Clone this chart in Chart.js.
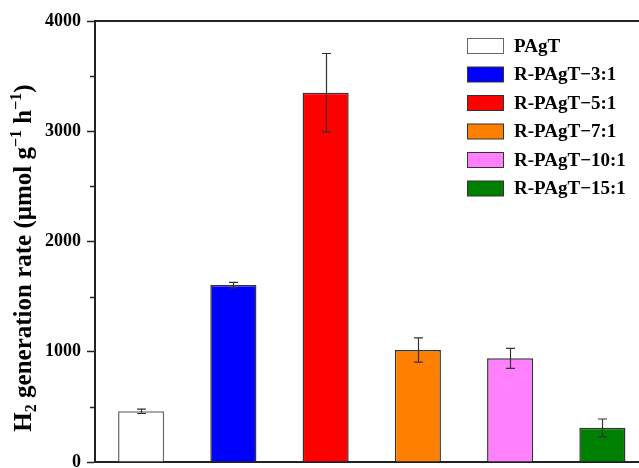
<!DOCTYPE html>
<html>
<head>
<meta charset="utf-8">
<script src="https://cdn.jsdelivr.net/npm/chart.js@4"></script>
<style>
    html, body { margin: 0; padding: 0; background: #fff; overflow: hidden; }
    #c { display: block; }
</style>
</head>
<body>
<canvas id="c" width="639" height="468"></canvas>
<script>
// data
const categories = ['PAgT', 'R-PAgT\u22123:1', 'R-PAgT\u22125:1', 'R-PAgT\u22127:1', 'R-PAgT\u221210:1', 'R-PAgT\u221215:1'];
const rates = [460, 1605, 3350, 1015, 940, 310];
const errors = [20, 25, 355, 110, 90, 80];
const yTicks = [0, 1000, 2000, 3000, 4000];
const colors = ['#ffffff', '#0000ff', '#ff0000', '#ff8000', '#ff80ff', '#008000'];
const borders = ['#666666', '#333333', '#333333', '#333333', '#333333', '#333333'];

const serif = '"Liberation Serif", "Times New Roman", serif';

let points = [];
for (let i = 0; i < rates.length; i++)
    points.push({x: i, y: rates[i]});

// error bars
const errorBars = {
    id: 'errorBars',
    afterDatasetsDraw(chart) {
        let ctx = chart.ctx;
        let xs = chart.scales.x, ys = chart.scales.y;
        ctx.save();
        ctx.strokeStyle = '#333';
        ctx.lineWidth = 1.2;
        for (let i = 0; i < rates.length; i++) {
            let x = Math.round(xs.getPixelForValue(i)) + 0.5;
            let top = ys.getPixelForValue(rates[i] + errors[i]);
            let bot = ys.getPixelForValue(rates[i] - errors[i]);
            ctx.beginPath();
            ctx.moveTo(x, top); ctx.lineTo(x, bot);
            ctx.moveTo(x - 4.5, top); ctx.lineTo(x + 4.5, top);
            ctx.moveTo(x - 4.5, bot); ctx.lineTo(x + 4.5, bot);
            ctx.stroke();
        }
        ctx.restore();
    }
};

// frame, minor ticks, axis title, legend
const decorations = {
    id: 'decorations',
    afterDraw(chart) {
        let ctx = chart.ctx;
        let area = chart.chartArea;
        let ys = chart.scales.y;
        ctx.save();

        // top line
        ctx.strokeStyle = '#222';
        ctx.lineWidth = 2;
        ctx.beginPath();
        ctx.moveTo(area.left - 1, area.top);
        ctx.lineTo(area.right, area.top);
        ctx.stroke();

        // minor ticks
        ctx.lineWidth = 1.5;
        for (let v = 500; v < 4000; v += 1000) {
            let y = Math.round(ys.getPixelForValue(v)) + 0.5;
            ctx.beginPath();
            ctx.moveTo(area.left - 5, y);
            ctx.lineTo(area.left, y);
            ctx.stroke();
        }

        // y title with sub/superscripts
        ctx.translate(31, 258);
        ctx.rotate(-Math.PI / 2);
        let big = 'bold 25px ' + serif;
        let small = 'bold 16px ' + serif;
        let parts = [
            ['H', big, 0],
            ['2', small, 5],
            [' generation rate (\u03bcmol g', big, 0],
            ['\u22121', small, -10],
            [' h', big, 0],
            ['\u22121', small, -10],
            [')', big, 0]
        ];
        let total = 0;
        for (let p of parts) {
            ctx.font = p[1];
            total += ctx.measureText(p[0]).width;
        }
        let x = -total / 2;
        ctx.fillStyle = '#000';
        ctx.textBaseline = 'alphabetic';
        for (let p of parts) {
            ctx.font = p[1];
            ctx.fillText(p[0], x, p[2]);
            x += ctx.measureText(p[0]).width;
        }
        ctx.setTransform(1, 0, 0, 1, 0, 0);

        // legend
        ctx.font = 'bold 19px ' + serif;
        ctx.textBaseline = 'middle';
        ctx.lineWidth = 1;
        for (let i = 0; i < categories.length; i++) {
            let cy = 46 + i * 28.5;
            ctx.fillStyle = colors[i];
            ctx.fillRect(467.5, cy - 7.5, 36, 15);
            ctx.strokeStyle = borders[i];
            ctx.strokeRect(467.5, cy - 7.5, 36, 15);
            ctx.fillStyle = '#000';
            ctx.fillText(categories[i], 514, cy + 1);
        }
        ctx.restore();
    }
};

new Chart(document.getElementById('c').getContext('2d'), {
    type: 'bar',
    data: {
        datasets: [{
            data: points,
            backgroundColor: colors,
            borderColor: borders,
            borderWidth: 1.5,
            barPercentage: 0.5,
            categoryPercentage: 1.0
        }]
    },
    options: {
        responsive: false,
        animation: false,
        devicePixelRatio: 1,
        layout: {padding: {left: 0, top: 21, right: 0, bottom: 6}},
        plugins: {
            legend: {display: false},
            tooltip: {enabled: false}
        },
        scales: {
            x: {
                type: 'linear',
                offset: false,
                min: -0.5,
                max: 5.397,
                afterBuildTicks: s => { s.ticks = points.map(p => ({value: p.x})); },
                ticks: {display: false},
                grid: {display: false, drawTicks: false, offset: false},
                border: {display: true, color: '#222', width: 2},
                afterFit: s => { s.height = 0; s.paddingLeft = 0; s.paddingRight = 0; }
            },
            y: {
                min: 0,
                max: 4000,
                afterBuildTicks: s => { s.ticks = yTicks.map(v => ({value: v})); },
                ticks: {
                    color: '#000',
                    padding: 6,
                    callback: v => String(v),
                    font: {family: serif, size: 18, weight: 'bold'}
                },
                grid: {drawOnChartArea: false, drawTicks: true, tickLength: 8, tickWidth: 1.5, tickColor: '#222'},
                border: {display: true, color: '#222', width: 2},
                afterFit: s => { s.width = 95; s.paddingTop = 0; s.paddingBottom = 0; }
            }
        }
    },
    plugins: [errorBars, decorations]
});
</script>
</body>
</html>
